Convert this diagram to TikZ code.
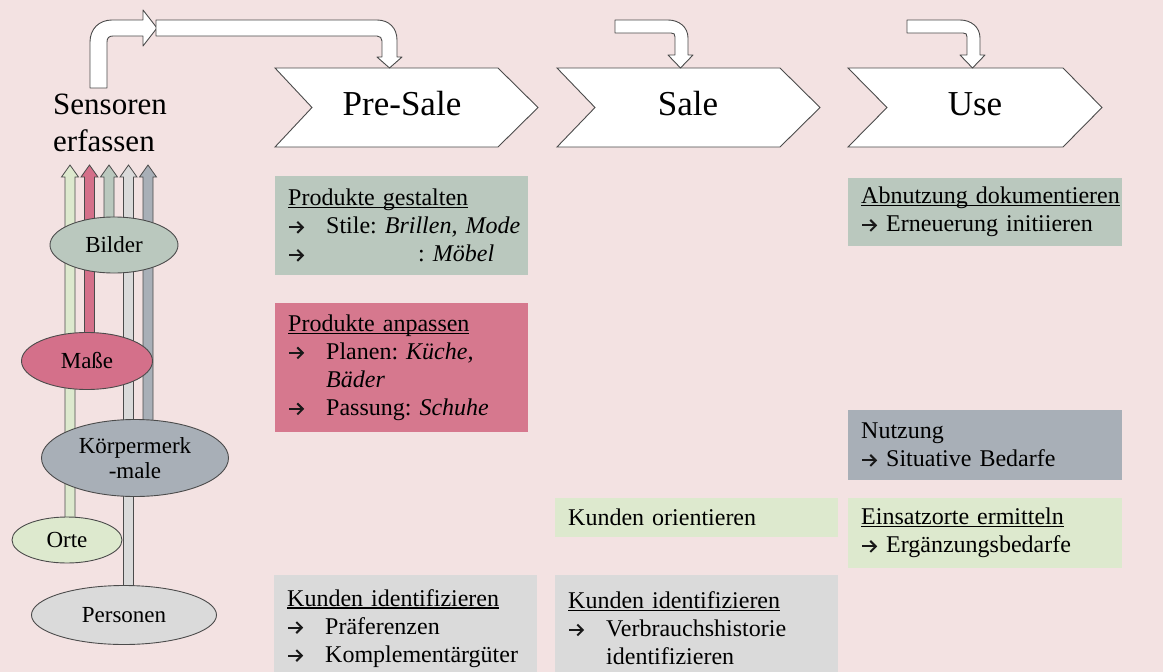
\documentclass[tikz,border=0pt]{standalone}
\usepackage{fontspec}
\setmainfont{Liberation Serif}
\usetikzlibrary{calc,shapes.geometric,arrows.meta}
\frenchspacing

\definecolor{bgpink}{RGB}{243,226,226}
\definecolor{greygreen}{RGB}{186,200,190}
\definecolor{rose}{RGB}{214,120,142}
\definecolor{roseell}{RGB}{212,112,138}
\definecolor{lightgrey}{RGB}{218,218,218}
\definecolor{lightgreen}{RGB}{221,233,206}
\definecolor{bluegrey}{RGB}{168,175,183}
\definecolor{lineg}{RGB}{75,75,75}
\definecolor{inkc}{RGB}{25,25,25}

\pgfdeclarelayer{bglayer}
\pgfdeclarelayer{behind}
\pgfsetlayers{bglayer,behind,main}

% small drawn arrow used as bullet, alone or followed by a fixed tab
\newcommand\arr{\tikz[x=1pt,y=1pt,baseline=0pt]{\draw[inkc,line width=2pt,
  -{Straight Barb[length=5.5pt,width=11pt,line width=2pt]}] (0,6.5) -- (15,6.5);}}
\newcommand\tabarrow{\makebox[38pt][l]{\arr}}
% heading underline set close to the baseline
\newcommand\headline[1]{\setbox0\hbox{#1}\rlap{\rule[-2.5pt]{\wd0}{1.1pt}}\box0}

% upward block arrow from a source ellipse to a named tip
\newcommand\sensorarrow[3]{%
  \begin{pgfonlayer}{behind}
  \filldraw[vup, fill=#3]
    ($(#1 |- #2.center)+(-5,0)$) -- ($(#1)+(-5,12)$) -- ($(#1)+(-8.5,12)$) -- (#1)
    -- ($(#1)+(8.5,12)$) -- ($(#1)+(5,12)$) -- ($(#1 |- #2.center)+(5,0)$) -- cycle;
  \end{pgfonlayer}}

\tikzset{
  blockarrow/.style={draw=lineg, line width=0.9pt, fill=white, line join=round},
  chevron/.style={draw=lineg, line width=0.9pt, fill=white},
  phase/.style={font=\fontsize{35}{40}\selectfont, anchor=base, inner sep=0pt},
  panel/.style={anchor=north west, inner xsep=13pt, inner ysep=0pt, align=left,
    font=\fontsize{24}{28}\selectfont},
  src/.style={ellipse, draw=lineg, line width=0.9pt, inner sep=0pt, align=center,
    font=\fontsize{23}{25}\selectfont},
  vup/.style={draw=lineg, line width=0.8pt},
}

\begin{document}
\begin{tikzpicture}[x=1pt,y=-1pt]
\useasboundingbox (0,0) rectangle (1163,672);
\begin{pgfonlayer}{bglayer}
  \fill[bgpink] (0,0) rectangle (1163,672);
\end{pgfonlayer}
\clip (0,0) rectangle (1163,672);

% ---- sensor sources ----
\node[src, fill=greygreen, minimum width=128pt, minimum height=56pt] (bilder) at (114,245) {Bilder};
\node[src, fill=roseell, minimum width=131pt, minimum height=57pt] (masse) at (87,361) {Maße};
\node[src, fill=bluegrey, minimum width=187pt, minimum height=77pt] (koerper) at (135,458) {Körpermerk\\-male};
\node[src, fill=lightgreen, minimum width=110pt, minimum height=46pt] (orte) at (67,540) {Orte};
\node[src, fill=lightgrey, minimum width=185pt, minimum height=59pt] (personen) at (124,615) {Personen};

\coordinate (tipOrte) at (70,165);
\coordinate (tipMasse) at (89.5,165);
\coordinate (tipBilder) at (109,165);
\coordinate (tipPersonen) at (128.5,165);
\coordinate (tipKoerper) at (148,165);
\sensorarrow{tipOrte}{orte}{lightgreen}
\sensorarrow{tipMasse}{masse}{roseell}
\sensorarrow{tipBilder}{bilder}{greygreen}
\sensorarrow{tipPersonen}{personen}{lightgrey}
\sensorarrow{tipKoerper}{koerper}{bluegrey}

\node[font=\fontsize{31}{37}\selectfont, align=left, anchor=north west, inner sep=0pt] (sens) at (53,94) {Sensoren\\erfassen};

% ---- phase chevrons ----
\draw[chevron] (275,68) -- (498,68) -- (538,107.5) -- (498,147) -- (275,147) -- (312,107.5) -- cycle;
\draw[chevron] (557,68) -- (780,68) -- (820,107.5) -- (780,147) -- (557,147) -- (595,107.5) -- cycle;
\draw[chevron] (848,68) -- (1063,68) -- (1102,107.5) -- (1063,147) -- (848,147) -- (887,107.5) -- cycle;
\node[phase] (presale) at (402,115) {Pre-Sale};
\node[phase] (sale) at (688,115) {Sale};
\node[phase] (use) at (975,115) {Use};

% ---- bent block arrows ----
\coordinate (sensOut) at (98.5,88);
\coordinate (psIn) at (389.5,68);
\coordinate (saleIn) at (680.5,68);
\coordinate (useIn) at (972.5,68);
\filldraw[blockarrow] (90,88) -- (90,42) .. controls (90,29) and (99,20) .. (112,20) -- (143,20) -- (143,10)
  -- (157,28) -- (143,46) -- (143,36) -- (113,36) .. controls (109,36) and (107,38) .. (107,42) -- (107,88) -- cycle;
\filldraw[blockarrow] (156,20) -- (377,20) .. controls (389,20) and (397,28) .. (397,40) -- (397,57) -- (402,57)
  -- (psIn) -- (377,57) -- (382,57) -- (382,41) .. controls (382,38) and (380,36) .. (377,36) -- (156,36) -- cycle;
\filldraw[blockarrow] (615,20) -- (668,20) .. controls (679,20) and (688,27) .. (688,38) -- (688,55) -- (693,55)
  -- (saleIn) -- (668,55) -- (675,55) -- (675,37) .. controls (675,34) and (674,33) .. (671,33) -- (615,33) -- cycle;
\filldraw[blockarrow] (907,20) -- (960,20) .. controls (971,20) and (980,27) .. (980,38) -- (980,55) -- (985,55)
  -- (useIn) -- (960,55) -- (967,55) -- (967,37) .. controls (967,34) and (966,33) .. (963,33) -- (907,33) -- cycle;

% ---- Pre-Sale panels ----
\node[panel, fill=greygreen, minimum width=253pt, minimum height=99pt, text width=227pt] (gestalten) at (275,176)
  {\headline{Produkte gestalten}\\ \mbox{\tabarrow Stile: \textit{Brillen, Mode}}\\ \mbox{\tabarrow\hspace*{92pt}: \textit{Möbel}}};
\node[panel, fill=rose, minimum width=253pt, minimum height=129pt, text width=227pt] (anpassen) at (275,303)
  {\headline{Produkte anpassen}\\ \mbox{\tabarrow Planen: \textit{Küche,}}\\ \hspace*{38pt}\textit{Bäder}\\ \mbox{\tabarrow Passung: \textit{Schuhe}}};
\node[panel, fill=lightgrey, minimum width=263pt, minimum height=106pt, text width=237pt] (kundenpre) at (274,575)
  {\headline{Kunden identifizieren}\\ \mbox{\tabarrow Präferenzen}\\ \mbox{\tabarrow Komplementärgüter}};

% ---- Sale panels ----
\node[panel, fill=lightgreen, minimum width=283pt, minimum height=39pt, text width=257pt] (orientieren) at (555,498)
  {Kunden orientieren};
\node[panel, fill=lightgrey, minimum width=283pt, minimum height=106pt, text width=257pt] (kundensale) at (555,575)
  {\headline{Kunden identifizieren}\\ \mbox{\tabarrow Verbrauchshistorie}\\ \hspace*{38pt}identifizieren};

% ---- Use panels ----
\node[panel, fill=greygreen, minimum width=274pt, minimum height=68pt, text width=248pt] (abnutzung) at (848,178)
  {\headline{Abnutzung dokumentieren}\\ \mbox{\arr\ Erneuerung initiieren}};
\node[panel, fill=bluegrey, minimum width=274pt, minimum height=70pt, text width=248pt] (nutzung) at (848,410)
  {Nutzung\\ \mbox{\arr\ Situative Bedarfe}};
\node[panel, fill=lightgreen, minimum width=274pt, minimum height=70pt, text width=248pt] (einsatz) at (848,498)
  {\headline{Einsatzorte ermitteln}\\ \mbox{\arr\ Ergänzungsbedarfe}};
\end{tikzpicture}
\end{document}
